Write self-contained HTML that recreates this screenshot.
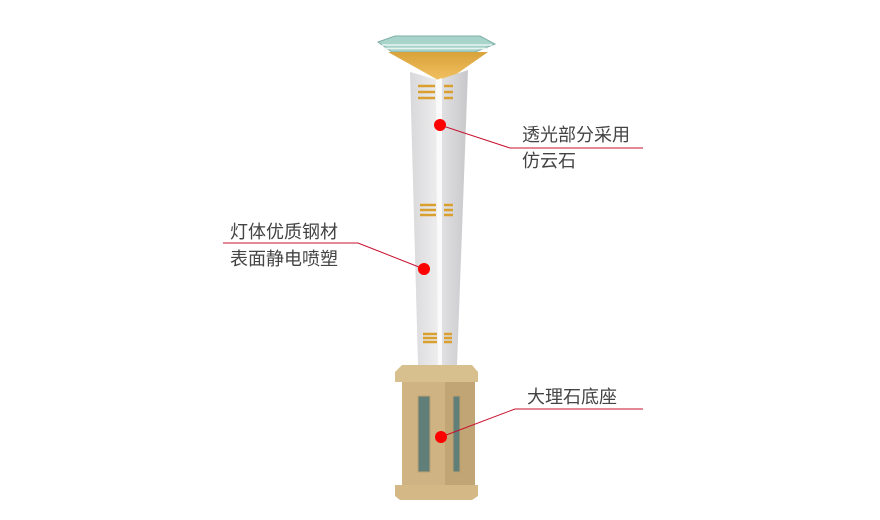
<!DOCTYPE html>
<html><head><meta charset="utf-8"><style>
body{margin:0;background:#fff;}
svg{display:block}
text{font-family:"Liberation Sans","Noto Sans CJK SC",sans-serif;font-size:18px;fill:#444;}
</style></head><body>
<svg width="880" height="520" viewBox="0 0 880 520">
<defs>
<linearGradient id="lf" x1="0" x2="1"><stop offset="0" stop-color="#d8d8da"/><stop offset="1" stop-color="#eeeeef"/></linearGradient>
<linearGradient id="rf" x1="0" x2="1"><stop offset="0" stop-color="#e4e4e6"/><stop offset="1" stop-color="#c8c8cb"/></linearGradient>
<linearGradient id="gold" x1="0" y1="0" x2="0" y2="1"><stop offset="0" stop-color="#d9a23a"/><stop offset="1" stop-color="#f0c060"/></linearGradient>
</defs>
<!-- cap plates -->
<polygon points="378,42 395,36 480,36 495,44 475,52 392,52" fill="#a9d4cc" stroke="#7fb0a8" stroke-width="1"/>
<line x1="382" y1="45" x2="492" y2="45" stroke="#e8f4f0" stroke-width="1.5"/>
<line x1="385" y1="48.5" x2="488" y2="48.5" stroke="#e8f4f0" stroke-width="1.5"/>
<polygon points="388,52 488,52 448,80 438,80" fill="url(#gold)"/>
<!-- pole -->
<polygon points="410,72 438,80 438,365 418,365" fill="url(#lf)"/>
<polygon points="438,80 468,70 457,365 440,365" fill="url(#rf)"/>
<polygon points="436,80 442,78 442,365 438,365" fill="#fafafa"/>
<!-- gold rings -->
<g stroke="#d9a030" stroke-width="2.5" fill="none">
<path d="M418,86 h17 M418,92 h17 M418,98 h17"/>
<path d="M444,86 h9 M444,92 h9 M444,98 h9"/>
<path d="M420,205 h16 M420,210 h16 M420,215 h16"/>
<path d="M444,205 h9 M444,210 h9 M444,215 h9"/>
<path d="M423,334 h14 M423,338 h14 M423,342 h14"/>
<path d="M444,334 h8 M444,338 h8 M444,342 h8"/>
</g>
<!-- base -->
<polygon points="395,372 402,365 472,365 478,372 478,382 395,382" fill="#d8bf8e"/>
<rect x="402" y="382" width="73" height="103" fill="#cfb383"/>
<rect x="445" y="382" width="30" height="103" fill="#c2a574"/>
<rect x="418" y="396" width="12" height="76" fill="#5f7f78" stroke="#bfa070"/>
<rect x="453" y="396" width="7" height="76" fill="#5f7f78" stroke="#bfa070"/>
<polygon points="395,485 478,485 478,496 472,500 400,500 395,496" fill="#d4b986"/>
<!-- leaders -->
<g stroke="#c8102e" stroke-width="1" fill="none">
<polyline points="440,125 510,148 643,148"/>
<polyline points="424,269 358,243 223,243"/>
<polyline points="441,437 515,409 643,409"/>
</g>
<g fill="#f00">
<circle cx="440" cy="125" r="6"/>
<circle cx="424" cy="269" r="6"/>
<circle cx="441" cy="437" r="6"/>
</g>
<text x="522" y="141">透光部分采用</text>
<text x="522" y="167">仿云石</text>
<text x="230" y="238">灯体优质钢材</text>
<text x="230" y="265">表面静电喷塑</text>
<text x="527" y="403">大理石底座</text>
</svg>
</body></html>
